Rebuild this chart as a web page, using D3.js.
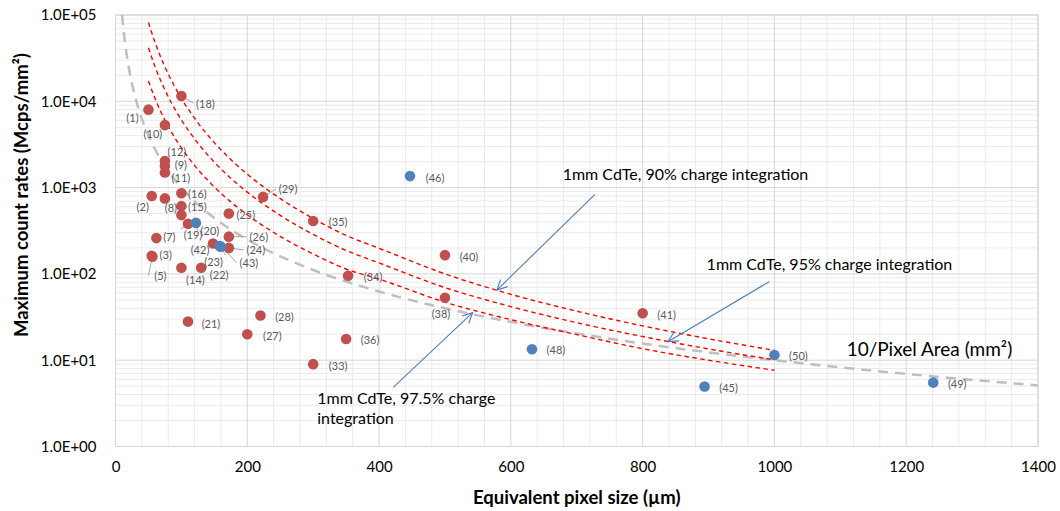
<!DOCTYPE html>
<html>
<head>
<meta charset="utf-8">
<script src="https://cdn.jsdelivr.net/npm/d3@7"></script>
<style>
  body { margin: 0; background: #fff; }
  svg { display: block; }
</style>
</head>
<body>
<svg id="chart" width="1060" height="511"></svg>
<script>
// ---- data ----------------------------------------------------------------
// Red detector systems: label, equivalent pixel size (um), max count rate (Mcps/mm2)
const redLabels = ["(18)", "(1)", "(10)", "(12)", "(9)", "(11)", "(2)", "(8)", "(16)", "(15)", "",
  "(19)", "(25)", "(7)", "(26)", "(42)", "(24)", "(3)", "(5)", "(14)", "(22)", "(21)", "(28)",
  "(27)", "(29)", "(35)", "(40)", "(34)", "(38)", "(36)", "(33)", "(41)"];
const redX = [100, 50, 75, 75, 75, 75, 55, 75, 100, 100, 100,
  110, 172, 62, 172, 148, 172, 55, 56, 100, 130, 110, 220,
  200, 224, 300, 500, 353, 500, 350, 300, 800];
const redY = [11500, 8000, 5300, 2030, 1780, 1500, 800, 750, 860, 610, 480,
  380, 500, 260, 270, 225, 200, 162, 158, 118, 118, 28, 33,
  20, 780, 410, 165, 95, 53, 17.6, 9, 35];

// Blue detector systems
const blueLabels = ["(20)", "(23)", "(43)", "(46)", "(48)", "(45)", "(50)", "(49)"];
const blueX = [122, 158, 160, 447, 632, 894, 1000, 1241];
const blueY = [390, 210, 207, 1360, 13.4, 4.95, 11.5, 5.5];

// 1 mm CdTe model curves (count-rate limit vs. pixel size)
const curveX = [50, 60, 75, 90, 100, 125, 150, 175, 200, 250, 300, 350, 400, 500, 600, 700, 800, 900, 1000];
const cdte90 = [82000, 48150, 25100, 14730, 10830, 5650, 3320, 2113, 1431, 746, 438, 279, 198, 100, 58, 37, 25, 17.7, 13.0];
const cdte95 = [41800, 25180, 13540, 8156, 6085, 3273, 1972, 1283, 886, 477, 287, 187, 134, 69.4, 41.8, 27.2, 18.8, 13.5, 10.1];
const cdte975 = [17200, 10760, 6050, 3784, 2885, 1624, 1015, 683, 484, 272, 170, 114, 87, 47, 29.5, 19.8, 13.6, 10.0, 7.64];

// 10 / pixel area reference curve
const areaX = [10, 12, 15, 20, 25, 30, 40, 50, 60, 80, 100, 125, 150, 200, 250, 300, 400, 500, 600, 800, 1000, 1200, 1400];
const areaY = [100000, 69400, 44400, 25000, 16000, 11100, 6250, 4000, 2780, 1560, 1000, 640, 444, 250, 160, 111, 62.5, 40, 27.8, 15.6, 10, 6.94, 5.10];

// Axis ticks
const xTicks = [0, 200, 400, 600, 800, 1000, 1200, 1400];
const yTicks = [1, 10, 100, 1000, 10000, 100000];
const yTickLabels = ["1.0E+00", "1.0E+01", "1.0E+02", "1.0E+03", "1.0E+04", "1.0E+05"];

// ---- layout --------------------------------------------------------------
const plot = { left: 115.5, right: 1038, top: 15, bottom: 446.5 };
const FONT = "Lato, 'Open Sans', 'DejaVu Sans', sans-serif";

// label offsets (px) of each point label centre from its marker; lead = draw leader line
const labelOffset = {
  "(18)": [24, 7, true], "(1)": [-16, 8], "(10)": [-12, 8], "(12)": [12, -10], "(9)": [16, -1],
  "(11)": [16, 5], "(2)": [-9, 11], "(8)": [6, 9], "(16)": [16, 0], "(15)": [16, 0],
  "(19)": [5, 11, true], "(20)": [14, 8, true], "(25)": [17, 1], "(7)": [13, -2],
  "(26)": [30, 0, true], "(42)": [-13, 6], "(24)": [27, 2, true], "(23)": [-6, 15, true],
  "(43)": [28, 16, true], "(3)": [14, -1], "(5)": [8, 19, true], "(14)": [14, 12], "(22)": [18, 7],
  "(21)": [23, 2], "(28)": [24, 1], "(27)": [25, 1], "(29)": [25, -8, true], "(35)": [25, 0],
  "(40)": [24, 1], "(34)": [25, 1], "(38)": [-4, 16], "(36)": [24, 0], "(33)": [25, 1],
  "(41)": [24, 1], "(46)": [25, 1], "(48)": [24, 0], "(45)": [24, 1], "(50)": [24, 1], "(49)": [24, 1]
};

const svg = d3.select("#chart");
const x = d3.scaleLinear().domain([0, 1400]).range([plot.left, plot.right]);
const y = d3.scaleLog().domain([1, 100000]).range([plot.bottom, plot.top]);

// ---- grid ----------------------------------------------------------------
const grid = svg.append("g");
const minorX = d3.range(0, 1401, 40).filter(v => v % 200 !== 0);
const minorY = [];
yTicks.slice(0, -1).forEach(d => { for (let k = 2; k <= 9; k++) minorY.push(d * k); });

grid.selectAll(".mx").data(minorX).join("line")
  .attr("x1", d => x(d)).attr("x2", d => x(d))
  .attr("y1", plot.top).attr("y2", plot.bottom)
  .attr("stroke", "#ebebeb").attr("stroke-width", 1);
grid.selectAll(".my").data(minorY).join("line")
  .attr("x1", plot.left).attr("x2", plot.right)
  .attr("y1", d => y(d)).attr("y2", d => y(d))
  .attr("stroke", "#ebebeb").attr("stroke-width", 1);
grid.selectAll(".Mx").data(xTicks).join("line")
  .attr("x1", d => x(d)).attr("x2", d => x(d))
  .attr("y1", plot.top).attr("y2", plot.bottom)
  .attr("stroke", "#d6d6d6").attr("stroke-width", 1);
grid.selectAll(".My").data(yTicks).join("line")
  .attr("x1", plot.left).attr("x2", plot.right)
  .attr("y1", d => y(d)).attr("y2", d => y(d))
  .attr("stroke", "#d6d6d6").attr("stroke-width", 1);
svg.append("rect")
  .attr("x", plot.left).attr("y", plot.top)
  .attr("width", plot.right - plot.left).attr("height", plot.bottom - plot.top)
  .attr("fill", "none").attr("stroke", "#d6d6d6");

// ---- axes ----------------------------------------------------------------
const xAxis = svg.append("g")
  .attr("transform", `translate(0,${plot.bottom + 12})`)
  .call(d3.axisBottom(x).tickValues(xTicks).tickSize(0).tickFormat(d3.format("d")));
xAxis.select(".domain").remove();
xAxis.selectAll("text").attr("font-family", FONT).attr("font-size", 15).attr("fill", "#000");

const yAxis = svg.append("g")
  .attr("transform", `translate(${plot.left - 16},0)`)
  .call(d3.axisLeft(y).tickValues(yTicks).tickSize(0).tickFormat((d, i) => yTickLabels[i]));
yAxis.select(".domain").remove();
yAxis.selectAll("text").attr("font-family", FONT).attr("font-size", 15).attr("fill", "#000");

svg.append("text")
  .attr("x", (plot.left + plot.right) / 2).attr("y", 504)
  .attr("text-anchor", "middle")
  .attr("font-family", FONT).attr("font-size", 18.5).attr("font-weight", "bold")
  .text("Equivalent pixel size (µm)");

svg.append("text")
  .attr("transform", "translate(28,195) rotate(-90)")
  .attr("text-anchor", "middle")
  .attr("font-family", FONT).attr("font-size", 18.5).attr("font-weight", "bold")
  .text("Maximum count rates (Mcps/mm²)");

// ---- curves --------------------------------------------------------------
svg.append("clipPath").attr("id", "plotClip")
  .append("rect").attr("x", plot.left).attr("y", plot.top)
  .attr("width", plot.right - plot.left).attr("height", plot.bottom - plot.top);

const line = d3.line().x(d => x(d[0])).y(d => y(d[1])).curve(d3.curveMonotoneX);
const curves = svg.append("g").attr("clip-path", "url(#plotClip)");

curves.append("path")
  .attr("d", line(d3.zip(areaX, areaY)))
  .attr("fill", "none").attr("stroke", "#bfbfbf").attr("stroke-width", 2.5)
  .attr("stroke-dasharray", "10,7");

[cdte90, cdte95, cdte975].forEach(vals => {
  curves.append("path")
    .attr("d", line(d3.zip(curveX, vals)))
    .attr("fill", "none").attr("stroke", "#ff0000").attr("stroke-width", 1.4)
    .attr("stroke-dasharray", "4.5,3.5");
});

// ---- annotation arrows ---------------------------------------------------
svg.append("defs").append("marker")
  .attr("id", "arrow").attr("viewBox", "0 0 12 12")
  .attr("refX", 11).attr("refY", 6)
  .attr("markerWidth", 12).attr("markerHeight", 12)
  .attr("markerUnits", "userSpaceOnUse").attr("orient", "auto")
  .append("path").attr("d", "M1,1 L11,6 L1,11")
  .attr("fill", "none").attr("stroke", "#4a7ebb").attr("stroke-width", 1.1);

const arrows = [
  [[727.6, 836], [578.9, 65]],
  [[992.1, 81.3], [838.4, 16.4]],
  [[421.5, 4.85], [542.0, 35.5]]
];
svg.append("g").selectAll("line").data(arrows).join("line")
  .attr("x1", d => x(d[0][0])).attr("y1", d => y(d[0][1]))
  .attr("x2", d => x(d[1][0])).attr("y2", d => y(d[1][1]))
  .attr("stroke", "#4a7ebb").attr("stroke-width", 1.1)
  .attr("marker-end", "url(#arrow)");

// ---- leader lines, points, labels ----------------------------------------
const red = redLabels.map((l, i) => ({ label: l, x: redX[i], y: redY[i], color: "#c0504d" }));
const blue = blueLabels.map((l, i) => ({ label: l, x: blueX[i], y: blueY[i], color: "#4f81bd" }));
const all = red.concat(blue);
const labelled = all.filter(d => d.label && labelOffset[d.label]);

svg.append("g").selectAll("line").data(labelled.filter(d => labelOffset[d.label][2])).join("line")
  .attr("x1", d => x(d.x)).attr("y1", d => y(d.y))
  .attr("x2", d => {
    const o = labelOffset[d.label];
    return x(d.x) + o[0] - Math.sign(o[0]) * 12;
  })
  .attr("y2", d => {
    const o = labelOffset[d.label];
    return y(d.y) + o[1] - (Math.abs(o[0]) < 8 ? 6 : 0);
  })
  .attr("stroke", "#a6a6a6").attr("stroke-width", 1);

svg.append("g").selectAll("circle").data(red).join("circle")
  .attr("cx", d => x(d.x)).attr("cy", d => y(d.y)).attr("r", 5.3)
  .attr("fill", d => d.color);
svg.append("g").selectAll("circle").data(blue).join("circle")
  .attr("cx", d => x(d.x)).attr("cy", d => y(d.y)).attr("r", 5.3)
  .attr("fill", d => d.color);

svg.append("g").selectAll("text").data(labelled).join("text")
  .attr("x", d => x(d.x) + labelOffset[d.label][0])
  .attr("y", d => y(d.y) + labelOffset[d.label][1])
  .attr("text-anchor", "middle").attr("dominant-baseline", "central")
  .attr("font-family", FONT).attr("font-size", 11).attr("fill", "#595959")
  .text(d => d.label);

// ---- annotation texts ----------------------------------------------------
const note = svg.append("g").attr("font-family", FONT).attr("fill", "#000");
note.append("text")
  .attr("x", x(678.6)).attr("y", y(1440)).attr("dominant-baseline", "central")
  .attr("font-size", 16).text("1mm CdTe, 90% charge integration");
note.append("text")
  .attr("x", x(897.1)).attr("y", y(133)).attr("dominant-baseline", "central")
  .attr("font-size", 16).text("1mm CdTe, 95% charge integration");
const t975 = note.append("text")
  .attr("x", x(306.2)).attr("y", y(3.78)).attr("dominant-baseline", "central")
  .attr("font-size", 16);
t975.append("tspan").attr("x", x(306.2)).text("1mm CdTe, 97.5% charge");
t975.append("tspan").attr("x", x(306.2)).attr("dy", 20.6).text("integration");

note.append("text")
  .attr("x", x(1109.6)).attr("y", y(13.8)).attr("dominant-baseline", "central")
  .attr("font-size", 19).text("10/Pixel Area (mm²)");
</script>
</body>
</html>
